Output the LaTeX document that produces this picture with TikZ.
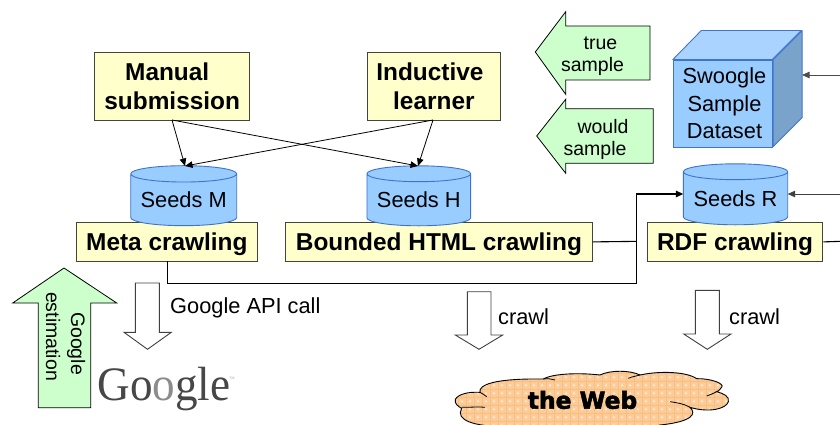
\documentclass[tikz,border=0pt]{standalone}
\usepackage{fontspec}
\setmainfont{Liberation Sans}
\newfontfamily\logofont{Liberation Serif}
\newfontfamily\heavyfont[BoldFeatures={FakeBold=2.2}]{DejaVu Sans}
\usetikzlibrary{shapes.geometric,arrows.meta}
\definecolor{boxy}{HTML}{FFFFCC}
\definecolor{boxb}{HTML}{44443A}
\definecolor{seedb}{HTML}{99CCFF}
\definecolor{seedl}{HTML}{3F73D0}
\definecolor{greenb}{HTML}{CCFFCC}
\definecolor{webf}{HTML}{FBCB98}
\definecolor{webg}{HTML}{F8BE82}
\definecolor{cubetop}{HTML}{AAD4FF}
\definecolor{cubeside}{HTML}{7AA3CC}
\tikzset{
 x=1pt,y=-1pt,
 ybox/.style={draw=boxb,line width=1.1pt,fill=boxy,inner sep=0pt,font=\fontsize{24.4}{29.7}\selectfont\bfseries,align=center,anchor=north west},
 seed/.style={cylinder,shape border rotate=90,aspect=0.19,draw=seedl,line width=0.9pt,fill=seedb,inner sep=0pt,font=\fontsize{21.8}{26}\selectfont},
 link/.style={-{Triangle[length=7.5pt,width=6.5pt]},line width=0.8pt},
 plain/.style={line width=1.1pt},
 greenarrow/.style={draw=black,line width=0.8pt,fill=greenb,line join=miter},
 whitearrow/.style={draw=black!75,line width=0.9pt,fill=white,line join=miter},
 small/.style={font=\fontsize{19.5}{22.5}\selectfont,align=center,inner sep=0pt},
 lab/.style={font=\fontsize{21.8}{26}\selectfont,inner sep=0pt},
}
\newcommand{\sizedbox}[6]{\node[ybox,minimum width=#4pt,minimum height=#5pt] (#1) at (#2,#3) {#6};}
\begin{document}
\begin{tikzpicture}
\useasboundingbox (0,0) rectangle (840,425);
% block arrows
\draw[greenarrow] (535.3,52) -- (565.7,11.7) -- (565.7,26) -- (650,26) -- (650,80) -- (565.7,80) -- (565.7,94.3) -- cycle;
\node[small] (true) at (592.5,56) {\hspace*{16pt}true\\sample};
\draw[greenarrow] (536.7,136) -- (565.7,99.3) -- (565.7,108.7) -- (653.3,108.7) -- (653.3,163.3) -- (565.7,163.3) -- (565.7,173.3) -- cycle;
\node[small] (would) at (595,139.5) {\hspace*{16pt}would\\sample};
\draw[greenarrow] (64,268) -- (116.7,303) -- (90.7,303) -- (90.7,407.7) -- (38.3,407.7) -- (38.3,303) -- (12.7,303) -- cycle;
\node[small,font=\fontsize{19.5}{25}\selectfont,rotate=-90] (est) at (65.5,336.5) {\hspace*{14pt}Google\\estimation};
\draw[whitearrow] (135.3,283) -- (159.3,283) -- (159.3,332.3) -- (171.3,332.3) -- (147.5,349.3) -- (124,332.3) -- (135.3,332.3) -- cycle;
\draw[whitearrow] (467.3,291.7) -- (491,291.7) -- (491,335) -- (502.7,335) -- (479,349.3) -- (455.3,335) -- (467.3,335) -- cycle;
\draw[whitearrow] (695.3,290.3) -- (719.3,290.3) -- (719.3,334) -- (731,334) -- (707.3,349.3) -- (683.7,334) -- (695.3,334) -- cycle;
\node[lab,anchor=west] (api) at (170,308) {Google API call};
\node[lab,anchor=west] (crawla) at (498,316.7) {crawl};
\node[lab,anchor=west] (crawlb) at (729,316.7) {crawl};
% boxes
\sizedbox{manual}{94}{51.7}{155.3}{68.3}{Manual\hspace*{10pt}\\submission}
\sizedbox{induct}{366.7}{51.7}{133.3}{68.3}{Inductive\hspace*{8pt}\\learner}
\sizedbox{meta}{76}{221.7}{180.7}{39.3}{\rule{0pt}{22.5pt}Meta crawling}
\sizedbox{html}{285}{221.7}{306.7}{39.3}{\rule{0pt}{22.5pt}Bounded HTML crawling}
\sizedbox{rdf}{646.7}{221.7}{175.6}{39.3}{\rule{0pt}{22.5pt}RDF crawling}
% seeds
\node[seed,minimum width=106pt,minimum height=60pt] (sm) at (183.7,200) {Seeds M};
\node[seed,minimum width=103.7pt,minimum height=60pt] (sh) at (418.8,200) {Seeds H};
\node[seed,minimum width=104.4pt,minimum height=61pt] (sr) at (735.5,198.5) {Seeds R};
% cube
\node[draw=seedl,line width=0.9pt,fill=seedb,minimum width=99.4pt,minimum height=87pt,inner sep=0pt,font=\fontsize{21.8}{27.5}\selectfont,align=center] (cube) at (723,103.5) {\hspace*{3pt}Swoogle\\\hspace*{3pt}Sample\\\hspace*{3pt}Dataset};
\draw[draw=seedl,line width=0.9pt,fill=cubetop,line join=round] (cube.north west) -- ++(28.4,-29) -- ++(100,0) -- ++(-29,29) -- cycle;
\draw[draw=seedl,line width=0.9pt,fill=cubeside,line join=round] (cube.north east) -- ++(29,-29) -- ++(0,87) -- ++(-29,29) -- cycle;
% coordinates
\coordinate (cubeedge) at (802,75);
\coordinate (e1) at (840,75);
\coordinate (e2) at (840,194);
\coordinate (e3) at (840,241.35);
\coordinate (srin) at (683.3,194);
\coordinate (srout) at (787.7,194);
\coordinate (jn) at (636.7,241.35);
\coordinate (mo) at (172,120);
\coordinate (io) at (433,120);
\coordinate (smt) at (185,166);
\coordinate (sht) at (418,166);
% connectors
\draw[link] (mo) -- (smt);
\draw[link] (mo) -- (sht);
\draw[link] (io) -- (smt);
\draw[link] (io) -- (sht);
\draw[plain,line width=0.9pt] (167,261) |- (636.7,283) -- (jn);
\draw[link,line width=1.5pt] (jn) -- (636.7,194) -- (srin);
\draw[plain] (html.east) -- (jn);
\draw[link,draw=black!75] (e2) -- (srout);
\draw[link,draw=black!70] (e1) -- (cubeedge);
\draw[plain] (rdf.east) -- (e3);
% logo
\node[font=\logofont\fontsize{48}{48}\selectfont,inner sep=0pt,text=black!72,anchor=base] (logo) at (164,400) {\scalebox{0.94}[1]{Go{\color{black!45}o}gle}};
\node[font=\fontsize{3.5}{4}\selectfont,inner sep=0pt,text=black!35] (logotm) at (232,378) {TM};
% cloud
\begin{scope}
\clip (0,0) rectangle (840,425);
\begin{scope}[shift={(440,280)},x=0.33333pt,y=-0.33333pt]
\def\cloudshape{(46,358) .. controls (55,342) and (85,335) .. (120,337)
 .. controls (115,315) and (160,295) .. (310,297)
 .. controls (340,280) and (420,278) .. (480,285)
 .. controls (510,270) and (570,270) .. (600,285)
 .. controls (660,272) and (740,275) .. (770,296)
 .. controls (810,295) and (855,310) .. (845,322)
 .. controls (842,330) and (830,335) .. (830,335)
 .. controls (850,340) and (870,350) .. (865,365)
 .. controls (860,385) and (810,400) .. (750,382)
 .. controls (770,400) and (760,425) .. (660,435)
 .. controls (640,450) and (560,450) .. (500,440)
 .. controls (400,450) and (300,450) .. (200,440)
 .. controls (100,440) and (45,420) .. (65,385)
 .. controls (55,380) and (42,370) .. (46,358) -- cycle}
\fill[webf] \cloudshape;
\begin{scope}
\clip \cloudshape;
\foreach \i in {0,...,36}{
 \draw[webg,line width=0.5pt] ({\i*24+30},260) -- ({\i*24+30},460);
 \foreach \j in {0,...,7}{\fill[white!65!webf] ({\i*24+42},{\j*24+268}) circle[radius=1.3pt];}
}
\foreach \j in {0,...,8}{\draw[webg,line width=0.5pt] (30,{\j*24+256}) -- (880,{\j*24+256});}
\end{scope}
\draw[black,line width=0.9pt] \cloudshape;
\draw[black,line width=0.8pt] (65,382) .. controls (85,382) and (120,380) .. (135,382);
\draw[black,line width=0.8pt] (120,337) .. controls (125,340) and (135,345) .. (140,350);
\draw[black,line width=0.8pt] (310,297) .. controls (325,295) and (335,297) .. (345,300);
\draw[black,line width=0.8pt] (600,285) .. controls (590,288) and (575,290) .. (565,295);
\draw[black,line width=0.8pt] (830,335) .. controls (820,340) and (810,345) .. (800,348);
\draw[black,line width=0.8pt] (750,382) .. controls (735,372) and (710,368) .. (690,365);
\end{scope}
\end{scope}
\node[font=\heavyfont\fontsize{23.4}{25}\selectfont\bfseries,inner sep=0pt] (web) at (582.5,400) {the Web};
\end{tikzpicture}
\end{document}
